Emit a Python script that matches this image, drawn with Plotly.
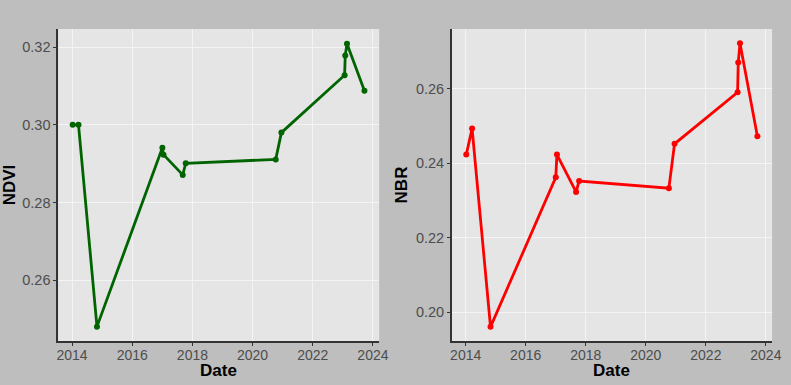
import plotly.graph_objects as go

dates = ["2014-01-08", "2014-03-20", "2014-10-30", "2017-01-01", "2017-01-15",
         "2017-09-05", "2017-10-12", "2020-10-08", "2020-12-16", "2023-01-22",
         "2023-01-30", "2023-02-20", "2023-09-20"]
ndvi = [0.300, 0.300, 0.248, 0.2941, 0.2923, 0.2871, 0.2901, 0.2911, 0.2980,
        0.3128, 0.3179, 0.3209, 0.3088]
nbr = [0.2423, 0.2493, 0.1961, 0.2362, 0.2423, 0.2323, 0.2352, 0.2333, 0.2452,
       0.2590, 0.2670, 0.2722, 0.2472]
x_ticks = ["2014-01-01", "2016-01-01", "2018-01-01", "2020-01-01", "2022-01-01", "2024-01-01"]
x_tick_labels = ["2014", "2016", "2018", "2020", "2022", "2024"]
ndvi_ticks = [0.26, 0.28, 0.30, 0.32]
nbr_ticks = [0.20, 0.22, 0.24, 0.26]

fig = go.Figure()
fig.add_trace(go.Scatter(x=dates, y=ndvi, mode="lines+markers",
                         line=dict(color="#006400", width=2.8),
                         marker=dict(color="#006400", size=6),
                         xaxis="x", yaxis="y", showlegend=False))
fig.add_trace(go.Scatter(x=dates, y=nbr, mode="lines+markers",
                         line=dict(color="#ff0000", width=2.8),
                         marker=dict(color="#ff0000", size=6),
                         xaxis="x2", yaxis="y2", showlegend=False))

font_family = "Liberation Sans, Arial, sans-serif"
common_x = dict(range=["2013-07-16", "2024-03-17"], tickvals=x_ticks, ticktext=x_tick_labels,
                showgrid=True, gridcolor="#f4f4f4", gridwidth=1,
                showline=True, linecolor="#333333", linewidth=1.5,
                ticks="outside", ticklen=3, tickcolor="#333333",
                tickfont=dict(family=font_family, size=14, color="#4d4d4d"),
                ticklabelstandoff=-3,
                zeroline=False)
common_y = dict(showgrid=True, gridcolor="#f4f4f4", gridwidth=1,
                showline=True, linecolor="#333333", linewidth=1.5,
                ticks="outside", ticklen=3, tickcolor="#333333",
                tickfont=dict(family=font_family, size=14.5, color="#4d4d4d"),
                zeroline=False, tickformat=".2f")

fig.update_layout(
    width=791, height=385,
    margin=dict(l=0, r=0, t=0, b=0),
    paper_bgcolor="#bebebe",
    plot_bgcolor="#e5e5e5",
    xaxis=dict(domain=[0.0721, 0.4842], anchor="y", **common_x),
    xaxis2=dict(domain=[0.5774, 0.9886], anchor="y2", **common_x),
    yaxis=dict(domain=[0.1143, 0.9247], anchor="x", range=[0.2443, 0.3247], tickvals=ndvi_ticks,
               title=dict(text="<b>NDVI</b>", font=dict(family=font_family, size=17, color="black"), standoff=4),
               **common_y),
    yaxis2=dict(domain=[0.1143, 0.9247], anchor="x2", range=[0.1923, 0.276], tickvals=nbr_ticks,
                title=dict(text="<b>NBR</b>", font=dict(family=font_family, size=17, color="black"), standoff=4),
                **common_y),
)
for dom in ([0.0721, 0.4842], [0.5774, 0.9886]):
    fig.add_annotation(text="<b>Date</b>", x=(dom[0] + dom[1]) / 2, y=1 - 370 / 385,
                       xref="paper", yref="paper", xanchor="center", yanchor="middle",
                       showarrow=False, font=dict(family=font_family, size=17, color="black"))

fig.write_html("out.html")
